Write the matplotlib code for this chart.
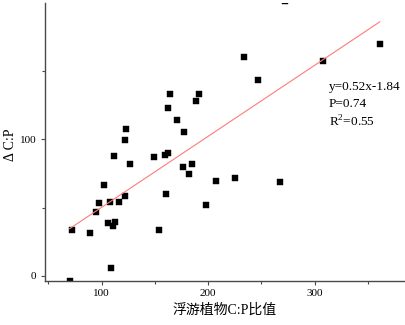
import matplotlib
matplotlib.use("Agg")
import matplotlib.pyplot as plt
import numpy as np
from matplotlib.ticker import MultipleLocator

# Data (phytoplankton C:P ratio vs ΔC:P)
x_vals = [70.1, 72.7, 89.6, 95.0, 97.9, 102.0, 106.2, 108.5, 108.1, 110.7,
          112.9, 111.9, 116.6, 122.2, 122.2, 122.9, 126.8, 148.9, 154.1, 159.2,
          160.7, 162.0, 162.8, 163.9, 170.8, 176.4, 177.6, 181.6, 184.8, 188.8,
          191.1, 198.3, 207.2, 225.4, 233.6, 246.5, 267.1, 271.8, 308.0, 361.0]
y_vals = [-3.4, 33.5, 31.7, 46.6, 53.2, 66.6, 38.4, 5.6, 54.1, 36.6,
          39.3, 88.1, 54.4, 58.3, 99.3, 107.5, 81.9, 86.8, 33.6, 88.7,
          59.8, 90.3, 122.9, 132.9, 114.1, 80.0, 105.5, 74.4, 81.9, 127.8,
          133.1, 51.9, 69.5, 71.8, 160.1, 143.2, 68.4, 201.0, 157.3, 169.7]

slope = 0.52
intercept = -1.84
stats_lines = ["y=0.52x-1.84", "P=0.74", "R$^2$=0.55"]
x_label = "浮游植物C:P比值"
y_label = "Δ C:P"

plt.rcParams['font.family'] = ['Liberation Serif', 'Noto Sans CJK SC', 'DejaVu Sans']
plt.rcParams['mathtext.fontset'] = 'custom'
plt.rcParams['mathtext.rm'] = 'Liberation Serif'

fig = plt.figure(figsize=(4.06, 3.25), dpi=100)
ax = fig.add_axes([0.110, 0.1354, 0.8875, 0.8554])

ax.plot(x_vals, y_vals, linestyle='none', marker='s', markersize=4.6,
        color='black', markeredgewidth=0.3)

xl = np.array([min(x_vals), max(x_vals)])
ax.plot(xl, slope * xl + intercept, color='#ff7a7a', linewidth=0.8)

ax.set_xlim(46.6, 384.7)
ax.set_ylim(-3.7, 199.7)

ax.xaxis.set_major_locator(MultipleLocator(100))
ax.xaxis.set_minor_locator(MultipleLocator(50))
ax.yaxis.set_major_locator(MultipleLocator(100))
ax.yaxis.set_minor_locator(MultipleLocator(50))

for s in ['top', 'right']:
    ax.spines[s].set_visible(False)
for s in ['left', 'bottom']:
    ax.spines[s].set_color('#4a4a4a')
    ax.spines[s].set_linewidth(1.0)

ax.tick_params(which='major', direction='out', length=3, width=0.8,
               color='#4a4a4a', labelsize=8, pad=3)
ax.tick_params(which='minor', direction='out', length=2, width=0.8,
               color='#4a4a4a')

ax.set_xlabel(x_label, fontsize=10, labelpad=4)
ax.set_ylabel(y_label, fontsize=10)
ax.yaxis.set_label_coords(-0.078, 0.49)

ty = [138.3, 125.8, 112.7]
for t, yy in zip(stats_lines, ty):
    ax.text(313.4, yy, t, fontsize=9.5, va='center', ha='left')

fig.savefig("out.png", dpi=100)
